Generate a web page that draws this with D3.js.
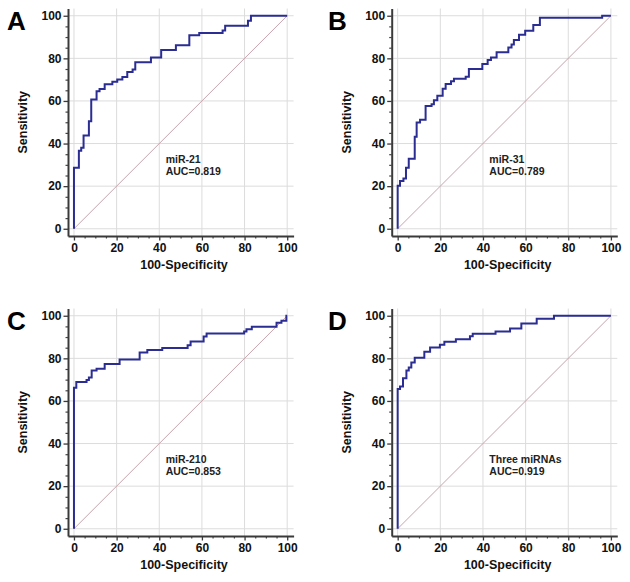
<!DOCTYPE html>
<html><head><meta charset="utf-8">
<script src="https://cdn.jsdelivr.net/npm/d3@7"></script>
<style>
html,body{margin:0;padding:0;background:#fff;}
text{font-family:"Liberation Sans",Arial,sans-serif;}
</style>
</head><body>
<svg id="c" width="630" height="582"></svg>
<script>
// ---- data (100-Specificity, Sensitivity) ----
const panelLetters = ["A","B","C","D"];
const markerNames = ["miR-21","miR-31","miR-210","Three miRNAs"];
const aucValues = ["0.819","0.789","0.853","0.919"];
const majorTicks = [0,20,40,60,80,100];

const aX = [0,0,2.3,3.4,4.5,7.0,8.1,10.6,12.0,14.4,18.0,20.3,22.7,25.0,27.5,28.75,36.1,40.9,47.8,54.1,58.75,69.7,70.9,81.6,83.0,100];
const aY = [0,28.6,36.6,38.0,43.8,50.5,60.7,64.6,65.6,67.8,69.0,70.1,71.2,73.6,74.8,78.2,80.4,83.9,86.2,90.8,91.9,93.1,95.3,97.7,100,100];

const bX = [0,0,1.1,2.7,3.9,5.2,8.0,8.9,10.5,13.1,15.9,17.0,18.6,21.1,22.5,25.0,26.4,31.9,33.4,39.7,42.2,43.75,46.4,51.9,53.4,54.5,56.9,59.8,63.6,66.7,95.9,100];
const bY = [0,20.2,22.4,23.6,28.6,32.9,43.2,49.9,51.2,57.6,58.5,60.3,62.4,65.7,67.9,69.3,70.4,71.4,75.0,77.3,79.2,80.4,82.9,85.1,86.5,88.6,91.1,93.0,95.6,99.1,100,100];

const cX = [0,0,1.1,5.9,7.0,8.3,10.6,14.4,21.4,30.8,34.4,41.4,53.3,54.7,60.8,62.2,79.8,80.9,83.4,95.0,97.3,99.6,100];
const cY = [0,66.2,68.9,69.8,71.0,74.3,75.1,77.3,79.5,82.8,83.9,84.8,86.1,87.9,90.3,91.7,92.6,93.7,94.8,96.7,97.7,100,100];

const dX = [0,0,1.1,2.5,4.1,5.2,6.4,8.0,12.5,15.2,19.8,21.9,27.3,33.9,35.2,45.9,52.7,58.0,65.2,73.3,100];
const dY = [0,65.6,66.8,70.6,74.3,75.7,78.1,80.3,83.1,85.1,86.4,87.8,89.0,90.4,91.5,92.6,94.0,96.4,98.6,100,100];

const curvesX = [aX,bX,cX,dX];
const curvesY = [aY,bY,cY,dY];

// ---- layout ----
const svg = d3.select("#c");
const offX = [0, 323.7, 0, 323.7];
const offY = [0, 0, 300, 300];

for (let p = 0; p < 4; p++) {
  const g = svg.append("g").attr("transform", `translate(${offX[p]},${offY[p]})`);
  const x = d3.scaleLinear().domain([-2.8, 103]).range([68, 293.6]);
  const y = d3.scaleLinear().domain([-3.4, 103.4]).range([236, 8.5]);

  // grid
  g.append("g").selectAll("line.h").data(majorTicks).join("line")
    .attr("x1", x.range()[0]).attr("x2", x.range()[1])
    .attr("y1", d => y(d)).attr("y2", d => y(d))
    .attr("stroke", "#dcdcdc").attr("stroke-width", 1);
  g.append("g").selectAll("line.v").data(majorTicks).join("line")
    .attr("y1", y.range()[0]).attr("y2", y.range()[1])
    .attr("x1", d => x(d)).attr("x2", d => x(d))
    .attr("stroke", "#dcdcdc").attr("stroke-width", 1);

  // diagonal
  g.append("line")
    .attr("x1", x(0)).attr("y1", y(0)).attr("x2", x(100)).attr("y2", y(100))
    .attr("stroke", "#c9a2aa").attr("stroke-width", 1);

  // minor ticks
  const minor = d3.range(0, 101, 5).filter(v => v % 20 !== 0);
  const yMinor = d3.axisLeft(y).tickValues(minor).tickSize(2.5).tickSizeOuter(0).tickFormat("");
  const xMinor = d3.axisBottom(x).tickValues(minor).tickSize(2.5).tickSizeOuter(0).tickFormat("");
  g.append("g").attr("transform", `translate(${x.range()[0]},0)`).call(yMinor)
    .call(s => s.select(".domain").remove())
    .selectAll("line").attr("stroke", "#444").attr("stroke-width", 1.2);
  g.append("g").attr("transform", `translate(0,${y.range()[0]})`).call(xMinor)
    .call(s => s.select(".domain").remove())
    .selectAll("line").attr("stroke", "#444").attr("stroke-width", 1.2);

  // major axes
  const yAx = g.append("g").attr("transform", `translate(${x.range()[0]},0)`)
    .call(d3.axisLeft(y).tickValues(majorTicks).tickSize(4.5).tickSizeOuter(0).tickPadding(2));
  const xAx = g.append("g").attr("transform", `translate(0,${y.range()[0]})`)
    .call(d3.axisBottom(x).tickValues(majorTicks).tickSize(4.5).tickSizeOuter(0).tickPadding(3));
  [yAx, xAx].forEach(a => {
    a.select(".domain").attr("stroke", "#3a3a3a").attr("stroke-width", 2);
    a.selectAll(".tick line").attr("stroke", "#3a3a3a").attr("stroke-width", 1.3);
    a.selectAll(".tick text").attr("fill", "#111").style("font-size", "12px").style("font-weight", "bold")
      .style("font-family", '"Liberation Sans",Arial,sans-serif');
  });

  // ROC curve
  const pts = curvesX[p].map((v, i) => [v, curvesY[p][i]]);
  g.append("path").datum(pts)
    .attr("d", d3.line().x(d => x(d[0])).y(d => y(d[1])).curve(d3.curveStepAfter))
    .attr("fill", "none").attr("stroke", "#2b2d92").attr("stroke-width", 2);

  // axis titles
  g.append("text").attr("x", 184).attr("y", 268.5).attr("text-anchor", "middle")
    .style("font-size", "12.5px").style("font-weight", "bold").attr("fill", "#111")
    .text("100-Specificity");
  g.append("text").attr("transform", `translate(27,${(y(0) + y(100)) / 2}) rotate(-90)`)
    .attr("text-anchor", "middle")
    .style("font-size", "12.5px").style("font-weight", "bold").attr("fill", "#111")
    .text("Sensitivity");

  // annotation
  const ax = x(43), ay = y(30.9);
  g.append("text").attr("x", ax).attr("y", ay)
    .style("font-size", "10.5px").style("font-weight", "bold").attr("fill", "#222")
    .text(markerNames[p]);
  g.append("text").attr("x", ax).attr("y", ay + 12.5)
    .style("font-size", "10.5px").style("font-weight", "bold").attr("fill", "#222")
    .text("AUC=" + aucValues[p]);

  // panel letter
  g.append("text").attr("x", p % 2 === 0 ? 7 : 4.3).attr("y", 30)
    .style("font-size", "26px").style("font-weight", "bold").attr("fill", "#000")
    .text(panelLetters[p]);
}
</script>
</body></html>
